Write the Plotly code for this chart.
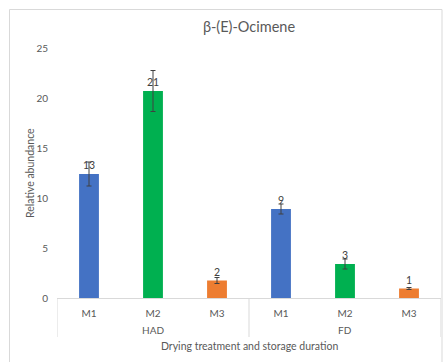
import plotly.graph_objects as go

groups = ["HAD", "FD"]
months = ["M1", "M2", "M3", "M1", "M2", "M3"]
values = [12.4, 20.7, 1.75, 8.9, 3.4, 0.95]
errors = [1.2, 2.05, 0.3, 0.5, 0.5, 0.1]
labels = ["13", "21", "2", "9", "3", "1"]
colors = ["#4472C4", "#00B050", "#ED7D31", "#4472C4", "#00B050", "#ED7D31"]

W, H = 445, 362
L, R, T, B = 57, 4, 48, 64
ph = H - T - B
idx = list(range(len(values)))

fig = go.Figure(go.Bar(
    x=idx, y=values,
    marker=dict(color=colors, line=dict(width=0)),
    width=0.31,
    error_y=dict(type="data", array=errors, color="#404040", thickness=1, width=2.5),
    text=labels, textposition="outside", cliponaxis=False,
    textfont=dict(family="Lato, sans-serif", size=10.5, color="#404040"),
))

def py(p):
    return (H - B - p) / ph

def px(p):
    return (p - L) / (W - L - R)

fig.add_shape(type="rect", xref="paper", yref="paper",
              x0=px(9.5), x1=px(442), y0=py(375), y1=py(9.5),
              line=dict(color="#D9D9D9", width=1), fillcolor="rgba(0,0,0,0)", layer="below")

# group dividers and labels
per = 3
for g, name in enumerate(groups):
    fig.add_annotation(x=g * per + (per - 1) / 2, xref="x", y=py(330), yref="paper",
                       text=name, showarrow=False, yanchor="middle",
                       font=dict(size=10, color="#595959"))
for k in range(len(groups) + 1):
    fig.add_shape(type="line", xref="x", yref="paper",
                  x0=k * per - 0.5, x1=k * per - 0.5, y0=0, y1=py(337),
                  line=dict(color="#D9D9D9", width=1))

fig.add_annotation(x=0.5, xref="paper", y=py(346), yref="paper",
                   text="Drying treatment and storage duration", showarrow=False,
                   yanchor="middle", font=dict(size=10.5, color="#595959"))

fig.add_annotation(x=px(30), xref="paper", y=0.5, yref="paper",
                   text="Relative abundance", showarrow=False, textangle=-90,
                   xanchor="center", yanchor="middle",
                   font=dict(size=10.5, color="#595959"))

fig.update_layout(
    width=W, height=H,
    margin=dict(l=L, r=R, t=T, b=B),
    paper_bgcolor="white", plot_bgcolor="white",
    showlegend=False,
    font=dict(family="Lato, sans-serif", color="#595959", size=10),
    title=dict(text="β-(E)-Ocimene", x=0.5, xref="paper", xanchor="center",
               y=1 - 27 / H, yanchor="middle", automargin=False,
               font=dict(size=14.5, color="#595959", family="Lato, sans-serif")),
    xaxis=dict(range=[-0.5, 5.5], tickvals=idx, ticktext=months,
               showline=True, linecolor="#D9D9D9", linewidth=1,
               showgrid=False, zeroline=False, automargin=False,
               ticks="", ticklabelstandoff=6, tickfont=dict(size=10, color="#595959")),
    yaxis=dict(range=[0, 25], tickvals=[0, 5, 10, 15, 20, 25], showgrid=False,
               zeroline=False, showline=False, ticks="", ticklen=0, automargin=False,
               tickfont=dict(size=10, color="#595959"), ticklabelstandoff=8),
)

fig.write_html("out.html", config={"displayModeBar": False},
               post_script="document.body.style.margin='0';document.body.style.overflow='hidden';")
